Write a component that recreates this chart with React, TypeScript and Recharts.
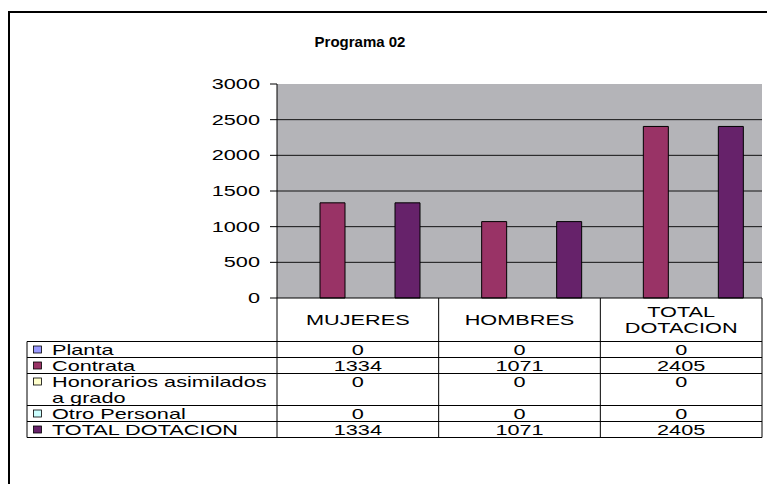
import { BarChart, Bar, XAxis, YAxis, CartesianGrid } from 'recharts'

const categories = ['MUJERES', 'HOMBRES', 'TOTAL DOTACION']
const seriesNames = ['Planta', 'Contrata', 'Honorarios asimilados a grado', 'Otro Personal', 'TOTAL DOTACION']
const seriesKeys = ['planta', 'contrata', 'honorarios', 'otro', 'total']
const seriesColors = ['#9999FF', '#993366', '#FFFFCC', '#CCFFFF', '#66226A']
const planta = [0, 0, 0]
const contrata = [1334, 1071, 2405]
const honorarios = [0, 0, 0]
const otroPersonal = [0, 0, 0]
const totalDotacion = [1334, 1071, 2405]
const yTicks = [0, 500, 1000, 1500, 2000, 2500, 3000]

const seriesValues = [planta, contrata, honorarios, otroPersonal, totalDotacion]

const data = categories.map((name, i) => {
  const row: Record<string, string | number> = { name }
  seriesKeys.forEach((k, s) => (row[k] = seriesValues[s][i]))
  return row
})

const W = 767
const H = 484
const PLOT_LEFT = 277
const PLOT_RIGHT = 762
const PLOT_TOP = 84
const PLOT_BOTTOM = 298
const TABLE_LEFT = 27
const TABLE_TOP = 341.5
const ROW_H = 16
const FONT = '"Liberation Sans", Arial, sans-serif'
const STRETCH = 1.55 // the source text is drawn wide

// naive word wrap, like the Excel data table does
function wrap(text: string, max: number) {
  const out: string[] = []
  let cur = ''
  text.split(' ').forEach((w) => {
    const next = cur ? cur + ' ' + w : w
    if (next.length > max && cur) {
      out.push(cur)
      cur = w
    } else cur = next
  })
  if (cur) out.push(cur)
  return out
}

const rowLines = seriesNames.map((n) => wrap(n, 21))
const rowTops: number[] = []
rowLines.reduce((top, lines) => {
  rowTops.push(top)
  return top + lines.length * ROW_H
}, TABLE_TOP)
const TABLE_BOTTOM = rowTops[rowTops.length - 1] + rowLines[rowLines.length - 1].length * ROW_H

function WideText({ x, y, anchor = 'start', children }: any) {
  return (
    <text
      transform={`translate(${x},${y}) scale(${STRETCH},1)`}
      textAnchor={anchor}
      fontFamily={FONT}
      fontSize={14}
      fill="#000"
    >
      {children}
    </text>
  )
}

function YTick(props: any) {
  const { x, y, payload } = props
  return (
    <WideText x={x} y={y + 5} anchor="end">
      {payload.value}
    </WideText>
  )
}

function TableTick(props: any) {
  const { x, index } = props
  const colW = (PLOT_RIGHT - PLOT_LEFT) / categories.length
  const left = x - colW / 2
  const right = x + colW / 2
  const head = wrap(categories[index], 10)
  const headMid = (PLOT_BOTTOM + TABLE_TOP) / 2

  return (
    <g>
      {index === 0 && <line x1={left} y1={PLOT_BOTTOM} x2={left} y2={TABLE_BOTTOM} stroke="#000" />}
      <line x1={right} y1={PLOT_BOTTOM} x2={right} y2={TABLE_BOTTOM} stroke="#000" />
      {head.map((l, i) => (
        <WideText key={i} x={x} y={headMid + 5 + (i - (head.length - 1) / 2) * 16} anchor="middle">
          {l}
        </WideText>
      ))}
      {seriesValues.map((vals, s) => (
        <WideText key={s} x={x} y={rowTops[s] + 13} anchor="middle">
          {vals[index]}
        </WideText>
      ))}
      {index === 0 && (
        <g>
          <line x1={TABLE_LEFT} y1={TABLE_TOP} x2={TABLE_LEFT} y2={TABLE_BOTTOM} stroke="#000" />
          {[...rowTops, TABLE_BOTTOM].map((y, i) => (
            <line key={i} x1={TABLE_LEFT} y1={y} x2={PLOT_RIGHT} y2={y} stroke="#000" />
          ))}
          {rowLines.map((lines, s) => (
            <g key={s}>
              <rect
                x={33.5}
                y={rowTops[s] + 4.5}
                width={8}
                height={7}
                fill={seriesColors[s]}
                stroke="#000"
                strokeWidth={0.8}
              />
              {lines.map((l, i) => (
                <WideText key={i} x={52} y={rowTops[s] + 13 + i * ROW_H}>
                  {l}
                </WideText>
              ))}
            </g>
          ))}
        </g>
      )}
    </g>
  )
}

export default function App() {
  return (
    <div style={{ position: 'absolute', left: 0, top: 0, width: W, height: H, overflow: 'hidden', background: '#fff' }}>
      <div
        style={{
          position: 'absolute',
          left: 8,
          top: 11,
          width: 900,
          height: 600,
          border: '2px solid #000',
        }}
      />
      <div
        style={{
          position: 'absolute',
          left: 260,
          top: 33,
          width: 200,
          textAlign: 'center',
          fontFamily: FONT,
          fontWeight: 'bold',
          fontSize: 15,
        }}
      >
        Programa 02
      </div>
      <div style={{ position: 'absolute', left: 0, top: 0 }}>
        <BarChart
          width={W}
          height={H}
          data={data}
          margin={{ top: PLOT_TOP, right: W - PLOT_RIGHT, left: PLOT_LEFT - 60, bottom: 46 }}
          barCategoryGap={18}
          barGap={0}
        >
          <CartesianGrid
            vertical={false}
            horizontalValues={[500, 1000, 1500, 2000, 2500]}
            stroke="#000"
            strokeOpacity={0.9}
            fill="#B4B4B8"
            fillOpacity={1}
          />
          <XAxis
            dataKey="name"
            height={H - 46 - PLOT_BOTTOM}
            axisLine={{ stroke: '#000' }}
            tickLine={false}
            interval={0}
            tick={<TableTick />}
          />
          <YAxis
            width={60}
            domain={[0, 3000]}
            ticks={yTicks}
            interval={0}
            axisLine={{ stroke: '#000' }}
            tickLine={{ stroke: '#000' }}
            tickSize={7}
            tickMargin={10}
            tick={<YTick />}
          />
          {seriesKeys.map((k, s) => (
            <Bar
              key={k}
              dataKey={k}
              name={seriesNames[s]}
              fill={seriesColors[s]}
              stroke="#000"
              strokeWidth={1}
              isAnimationActive={false}
            />
          ))}
        </BarChart>
      </div>
    </div>
  )
}
